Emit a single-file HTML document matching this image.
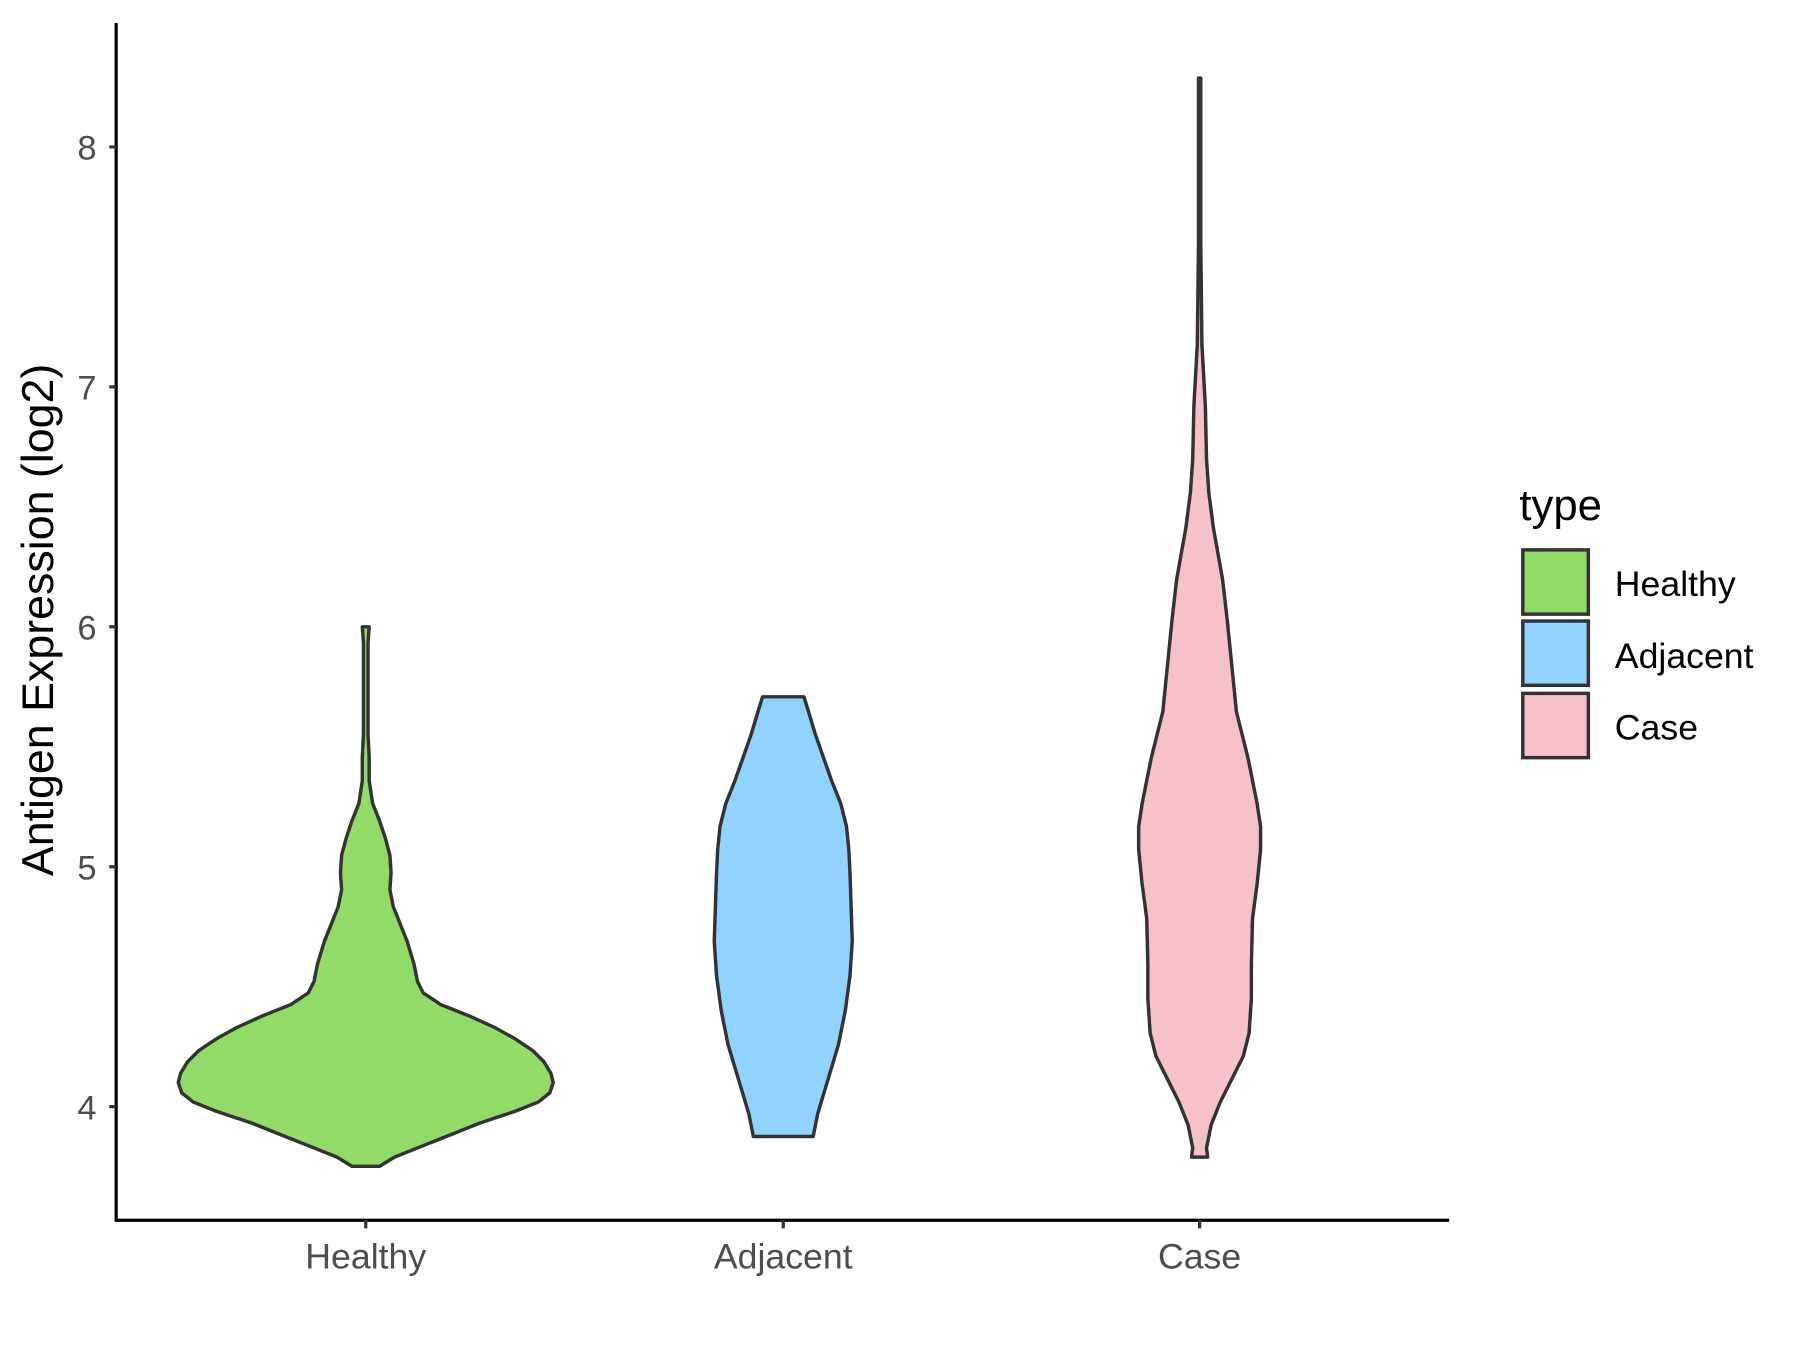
<!DOCTYPE html>
<html><head><meta charset="utf-8"><style>html,body{margin:0;padding:0;background:#fff}svg{display:block}</style></head><body>
<svg width="1800" height="1350" viewBox="0 0 1565 1176" preserveAspectRatio="none" xmlns="http://www.w3.org/2000/svg" font-family="Liberation Sans, Arial, sans-serif">
<rect width="1565" height="1176" fill="#fff"/>
<g stroke="#333" stroke-width="3" stroke-linejoin="round">
<path fill="#93DB69" d="M315,546 L316,560 L316,600 L316,640 L315,660 L315,680 L312,700 L306,715 L301,730 L297,745 L296,760 L297,775 L294,790 L288,805 L282,820 L276,840 L273,855 L268,865 L253,875 L228,885 L206,895 L188,905 L173,915 L163,925 L157,935 L155,943 L158,952 L168,960 L188,968 L218,978 L248,990 L273,1000 L293,1008 L306,1016 L330,1016 L343,1008 L363,1000 L388,990 L418,978 L448,968 L468,960 L478,952 L481,943 L479,935 L473,925 L463,915 L448,905 L430,895 L408,885 L383,875 L368,865 L363,855 L360,840 L354,820 L348,805 L342,790 L339,775 L340,760 L339,745 L335,730 L330,715 L324,700 L321,680 L321,660 L320,640 L320,600 L320,560 L321,546 Z"/>
<path fill="#92D3FE" d="M663,607 L659,620 L653,640 L646,660 L639,680 L631,700 L626,720 L624,740 L623,760 L622,790 L621,820 L623,850 L627,880 L633,910 L639,930 L645,950 L651,970 L655,990 L707,990 L711,970 L717,950 L723,930 L729,910 L735,880 L739,850 L741,820 L740,790 L739,760 L738,740 L736,720 L731,700 L723,680 L716,660 L709,640 L703,620 L699,607 Z"/>
<path fill="#F7C1CC" d="M1042,68 L1042,212 L1041,300 L1038,354 L1037,400 L1035,429 L1031,460 L1023,505 L1019,540 L1015,580 L1011,620 L1001,660 L993,700 L990,720 L990,740 L993,770 L997,800 L998,840 L998,870 L1000,900 L1005,920 L1015,940 L1025,960 L1033,980 L1037,1000 L1036,1008 L1050,1008 L1049,1000 L1053,980 L1061,960 L1071,940 L1081,920 L1086,900 L1088,870 L1088,840 L1089,800 L1093,770 L1096,740 L1096,720 L1093,700 L1085,660 L1075,620 L1071,580 L1067,540 L1063,505 L1055,460 L1051,429 L1049,400 L1048,354 L1045,300 L1044,212 L1044,68 Z"/>
</g>
<g stroke="#000" stroke-width="2.8" fill="none">
<path d="M101,20 L101,1063 L1260,1063"/>
</g>
<g stroke="#333" stroke-width="2.8">
<path d="M95,964H101M95,755H101M95,546H101M95,337H101M95,128H101"/>
<path d="M318,1063V1070M681,1063V1070M1043,1063V1070"/>
</g>
<g fill="#4D4D4D" font-size="30" text-anchor="end">
<text x="84" y="975">4</text><text x="84" y="766">5</text><text x="84" y="557">6</text><text x="84" y="348">7</text><text x="84" y="139">8</text>
</g>
<g fill="#4D4D4D" font-size="31" text-anchor="middle">
<text x="318" y="1105">Healthy</text><text x="681" y="1105">Adjacent</text><text x="1043" y="1105">Case</text>
</g>
<text transform="translate(46,540) rotate(-90)" text-anchor="middle" font-size="39" fill="#000">Antigen Expression (log2)</text>
<text x="1321" y="453" font-size="38" fill="#000">type</text>
<g stroke="#333" stroke-width="3">
<rect x="1324" y="479" width="57" height="56" fill="#93DB69"/>
<rect x="1324" y="541" width="57" height="56" fill="#92D3FE"/>
<rect x="1324" y="604" width="57" height="56" fill="#F7C1CC"/>
</g>
<g font-size="31" fill="#000">
<text x="1404" y="519">Healthy</text><text x="1404" y="582">Adjacent</text><text x="1404" y="644">Case</text>
</g>
</svg>
</body></html>
